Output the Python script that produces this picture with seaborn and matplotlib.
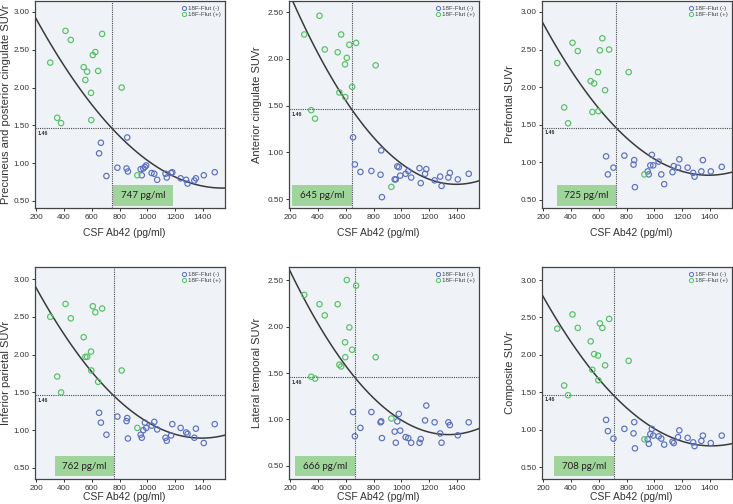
import numpy as np
import pandas as pd
import matplotlib
matplotlib.use("Agg")
import matplotlib.pyplot as plt
import matplotlib.transforms as mtransforms
from matplotlib.patches import Rectangle
from matplotlib.lines import Line2D
import seaborn as sns

# CSF Ab42 values (pg/ml), same subjects in every panel
csf_pos = [300, 350, 378, 410, 448, 541, 553, 566, 594, 596, 607, 625, 645, 674, 815, 928]
csf_neg = [652, 665, 705, 784, 850, 855, 860, 952, 960, 971, 982, 992, 1031, 1050,
           1071, 1131, 1140, 1171, 1180, 1240, 1280, 1290, 1339, 1350, 1407, 1486]

regions = ["Precuneus and posterior cingulate SUVr", "Anterior cingulate SUVr",
           "Prefrontal SUVr", "Inferior parietal SUVr", "Lateral temporal SUVr",
           "Composite SUVr"]
cutoffs = [747, 645, 725, 762, 666, 708]

suvr_pos = [
    [2.33, 1.60, 1.53, 2.75, 2.63, 2.27, 2.10, 2.21, 1.93, 1.57, 2.43, 2.47, 2.22, 2.71, 2.00, 0.84],
    [2.26, 1.45, 1.36, 2.46, 2.10, 2.07, 1.64, 2.26, 1.94, 1.59, 2.01, 2.15, 1.70, 2.17, 1.93, 0.63],
    [2.32, 1.73, 1.52, 2.59, 2.48, 2.08, 1.67, 2.05, 2.20, 1.68, 2.49, 2.65, 1.96, 2.50, 2.20, 0.84],
    [2.50, 1.71, 1.50, 2.67, 2.48, 2.23, 1.97, 1.97, 2.04, 1.79, 2.64, 2.56, 1.64, 2.61, 1.79, 1.03],
    [2.34, 1.46, 1.44, 2.24, 2.12, 2.24, 1.59, 1.57, 1.83, 1.67, 2.50, 1.99, 1.75, 2.44, 1.67, 1.01],
    [2.35, 1.59, 1.46, 2.54, 2.36, 2.18, 1.80, 2.01, 1.99, 1.66, 2.42, 2.36, 1.86, 2.48, 1.92, 0.87],
]
suvr_neg = [
    [1.13, 1.27, 0.83, 0.94, 0.93, 1.34, 0.89, 0.92, 0.84, 0.93, 0.95, 0.97, 0.87, 0.86,
     0.78, 0.86, 0.81, 0.87, 0.88, 0.80, 0.78, 0.73, 0.77, 0.80, 0.84, 0.88],
    [1.16, 0.87, 0.79, 0.80, 0.76, 1.02, 0.52, 0.71, 0.71, 0.85, 0.84, 0.75, 0.77, 0.80,
     0.73, 0.83, 0.67, 0.77, 0.82, 0.70, 0.74, 0.64, 0.73, 0.78, 0.71, 0.77],
    [1.08, 0.84, 0.93, 1.09, 0.97, 1.03, 0.67, 0.88, 0.84, 0.96, 1.10, 0.96, 1.01, 0.84,
     0.71, 0.87, 0.95, 0.93, 1.04, 0.93, 0.86, 0.81, 0.88, 1.03, 0.88, 0.94],
    [1.23, 1.10, 0.94, 1.18, 1.12, 1.16, 0.89, 0.94, 0.90, 1.00, 1.10, 1.03, 1.06, 1.11,
     1.01, 0.90, 0.86, 0.93, 1.08, 1.03, 0.97, 0.95, 0.90, 1.02, 0.83, 1.08],
    [1.08, 0.82, 0.91, 1.08, 0.97, 0.98, 0.80, 0.87, 0.75, 0.98, 1.06, 0.88, 0.81, 0.80,
     0.75, 0.75, 0.79, 0.99, 1.15, 0.97, 0.85, 0.75, 0.97, 0.94, 0.83, 0.97],
    [1.13, 0.98, 0.88, 1.01, 0.95, 1.10, 0.75, 0.87, 0.81, 0.94, 1.01, 0.92, 0.91, 0.88,
     0.80, 0.84, 0.82, 0.90, 0.99, 0.89, 0.83, 0.78, 0.85, 0.92, 0.82, 0.92],
]

threshold = 1.46
x_ticks = [200, 400, 600, 800, 1000, 1200, 1400]
ylims = [(0.407, 3.145), (0.404, 2.618), (0.393, 3.146),
         (0.354, 3.159), (0.36, 2.64), (0.34, 3.174)]

blue = "#5b6fc0"
green = "#55c064"
palette = {"18F-Flut (-)": blue, "18F-Flut (+)": green}

sns.set_style("ticks")
plt.rcParams["font.family"] = ["Liberation Sans", "DejaVu Sans"]

fig = plt.figure(figsize=(7.33, 5.04), dpi=100)
W, H = 733.0, 504.0
lefts = [35, 289, 542]
rows = [(1, 208), (267, 479)]

for i in range(6):
    r, c = divmod(i, 3)
    top, bot = rows[r]
    ax = fig.add_axes([lefts[c] / W, (H - bot) / H, 190 / W, (bot - top) / H])
    ax.set_facecolor("#eff3f8")

    df = pd.DataFrame({
        "csf": csf_neg + csf_pos,
        "suvr": suvr_neg[i] + suvr_pos[i],
        "group": ["18F-Flut (-)"] * len(csf_neg) + ["18F-Flut (+)"] * len(csf_pos),
    })

    ax.set_xlim(190, 1560)
    ax.set_ylim(*ylims[i])

    sns.scatterplot(data=df, x="csf", y="suvr", hue="group", palette=palette,
                    s=15, linewidth=0.85, legend=False, ax=ax, zorder=3)
    coll = ax.collections[-1]
    fc = coll.get_facecolors()
    coll.set_edgecolors(fc)
    coll.set_facecolors("none")

    sns.regplot(data=df, x="csf", y="suvr", order=2, ci=None, scatter=False,
                truncate=False, line_kws=dict(color="#3a3a3a", lw=1.1), ax=ax)

    ax.axhline(threshold, color="#4a4a4a", ls=(0, (1, 1)), lw=0.8, zorder=2)
    ax.axvline(cutoffs[i], color="#4a4a4a", ls=(0, (1, 1)), lw=0.8, zorder=2)
    ax.text(0.012, threshold - 0.03, "1.46",
            transform=mtransforms.blended_transform_factory(ax.transAxes, ax.transData),
            fontsize=3.8, fontweight="bold", color="#333333", ha="left", va="top")

    # cutoff label box
    trans = mtransforms.blended_transform_factory(ax.transData, ax.transAxes)
    bw = 430
    x0 = cutoffs[i] + 5 if i == 0 else cutoffs[i] - bw
    ax.add_patch(Rectangle((x0, 0.012), bw, 0.098, transform=trans,
                           facecolor="#9fd49a", edgecolor="none", zorder=1))
    ax.text(x0 + bw / 2, 0.06, f"{cutoffs[i]} pg/ml", transform=trans,
            ha="center", va="center", fontsize=7, family=["Lato", "DejaVu Sans"],
            color="#222222", zorder=4)

    handles = [Line2D([], [], marker="o", ls="", mfc="none", mec=blue, ms=3, mew=0.7),
               Line2D([], [], marker="o", ls="", mfc="none", mec=green, ms=3, mew=0.7)]
    ax.legend(handles=handles, labels=list(palette.keys()), loc="upper right",
              frameon=False, fontsize=4.5, handletextpad=0.1, borderaxespad=0.3,
              labelspacing=0.2, handlelength=1.0, labelcolor="#444444")

    ax.set_xticks(x_ticks)
    if ylims[i][1] > 3:
        ax.set_yticks([0.5, 1.0, 1.5, 2.0, 2.5, 3.0])
    else:
        ax.set_yticks([0.5, 1.0, 1.5, 2.0, 2.5])
    ax.yaxis.set_major_formatter(matplotlib.ticker.FormatStrFormatter("%.2f"))
    ax.tick_params(labelsize=5.9, length=2.5, width=0.7, pad=1.5, colors="#333333")

    ax.set_xlabel("CSF Ab42 (pg/ml)", fontsize=7.5, color="#333333")
    ax.set_ylabel(regions[i], fontsize=8, color="#333333")
    ax.yaxis.set_label_coords(-0.125 if c == 0 else -0.14, 0.5)
    ax.xaxis.set_label_coords(0.47, -0.095 if r == 0 else -0.06)

    for sp in ax.spines.values():
        sp.set_color("#444444")
        sp.set_linewidth(0.9)

fig.savefig("out.png", dpi=100)
